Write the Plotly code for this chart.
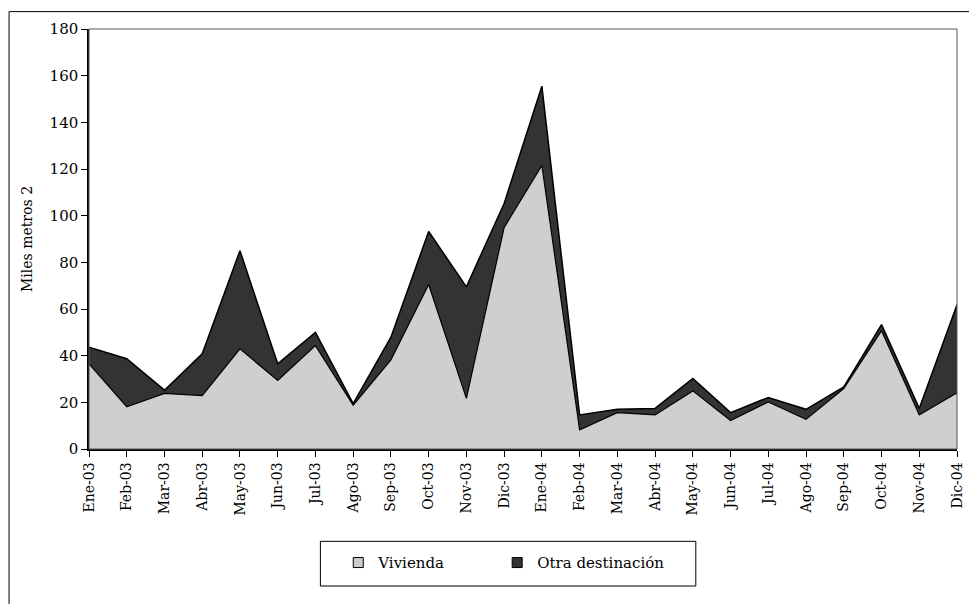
import plotly.graph_objects as go

meses = ["Ene-03", "Feb-03", "Mar-03", "Abr-03", "May-03", "Jun-03", "Jul-03", "Ago-03",
         "Sep-03", "Oct-03", "Nov-03", "Dic-03", "Ene-04", "Feb-04", "Mar-04", "Abr-04",
         "May-04", "Jun-04", "Jul-04", "Ago-04", "Sep-04", "Oct-04", "Nov-04", "Dic-04"]

vivienda = [36.5, 18.1, 23.8, 22.9, 42.9, 29.4, 44.3, 18.8, 38.2, 70.5, 21.7, 94.9,
            121.5, 8.2, 15.6, 14.6, 24.9, 12.2, 20.2, 12.7, 25.9, 50.7, 14.6, 24.1]

total = [43.6, 38.7, 25.2, 40.8, 85.0, 36.5, 50.0, 19.5, 47.9, 93.2, 69.5, 105.2,
         155.5, 14.6, 17.0, 17.4, 30.2, 15.6, 22.1, 17.0, 26.6, 53.3, 17.4, 61.8]

otra = [round(t - v, 1) for t, v in zip(total, vivienda)]

y_ticks = [0, 20, 40, 60, 80, 100, 120, 140, 160, 180]

FONT = "DejaVu Serif"
OFF = 8  # page body margin
W, H = 977 - OFF, 604 - OFF
L, R, T, B = 89 - OFF, 14, 26 - OFF, 155
pw, ph = W - L - R, H - T - B

def px_x(p):
    return (p - OFF - L) / pw

def px_y(p):
    return (H + OFF - B - p) / ph

fig = go.Figure()
fig.add_trace(go.Scatter(
    x=meses, y=vivienda, name="Vivienda", stackgroup="s", mode="lines",
    line=dict(color="black", width=1.2),
    fillcolor="#cfcfcf",
    showlegend=False))
fig.add_trace(go.Scatter(
    x=meses, y=otra, name="Otra destinación", stackgroup="s", mode="lines",
    line=dict(color="black", width=1.5),
    fillcolor="#333333", showlegend=False))

# legend entries
fig.add_trace(go.Scatter(x=[None], y=[None], mode="markers", name="Vivienda",
                         legend="legend",
                         marker=dict(symbol="square", size=10, color="#cccccc",
                                     line=dict(color="black", width=1))))
fig.add_trace(go.Scatter(x=[None], y=[None], mode="markers", name="Otra destinación",
                         legend="legend2",
                         marker=dict(symbol="square", size=10, color="#333333",
                                     line=dict(color="black", width=1))))

# outer chart border
fig.add_shape(type="rect", xref="paper", yref="paper",
              x0=px_x(8.5), x1=px_x(1000), y0=px_y(640), y1=px_y(8.5),
              line=dict(color="black", width=1), layer="below")
# legend box
fig.add_shape(type="rect", xref="paper", yref="paper",
              x0=px_x(322), x1=px_x(700), y0=px_y(587), y1=px_y(542),
              line=dict(color="black", width=1), layer="below")
# plot border
fig.add_shape(type="rect", xref="paper", yref="paper", x0=0, x1=1, y0=0, y1=1,
              line=dict(color="#555555", width=1), layer="above")

leg_common = dict(orientation="h", yanchor="top", xanchor="left",
                  borderwidth=0, bgcolor="rgba(0,0,0,0)",
                  font=dict(family=FONT, size=15), itemwidth=30)

fig.update_layout(
    width=W, height=H,
    margin=dict(l=L, r=R, t=T, b=B),
    paper_bgcolor="white", plot_bgcolor="white",
    font=dict(family=FONT, size=14, color="black"),
    showlegend=True,
    legend=dict(x=px_x(340), y=px_y(547), **leg_common),
    legend2=dict(x=px_x(500), y=px_y(547), **leg_common),
    xaxis=dict(type="category", range=[0, len(meses) - 1],
               showgrid=False, showline=True, linecolor="black", linewidth=1.5,
               mirror=False, ticks="outside", ticklen=6, tickcolor="black",
               tickangle=-90, tickfont=dict(family=FONT, size=14)),
    yaxis=dict(range=[0, 180], tickvals=y_ticks, showgrid=False, zeroline=False,
               showline=True, linecolor="black", linewidth=1.5,
               ticks="outside", ticklen=6, tickcolor="black",
               tickfont=dict(family=FONT, size=15),
               title=dict(text="Miles metros 2", font=dict(family=FONT, size=14), standoff=14)),
)

fig.write_html("out.html")
